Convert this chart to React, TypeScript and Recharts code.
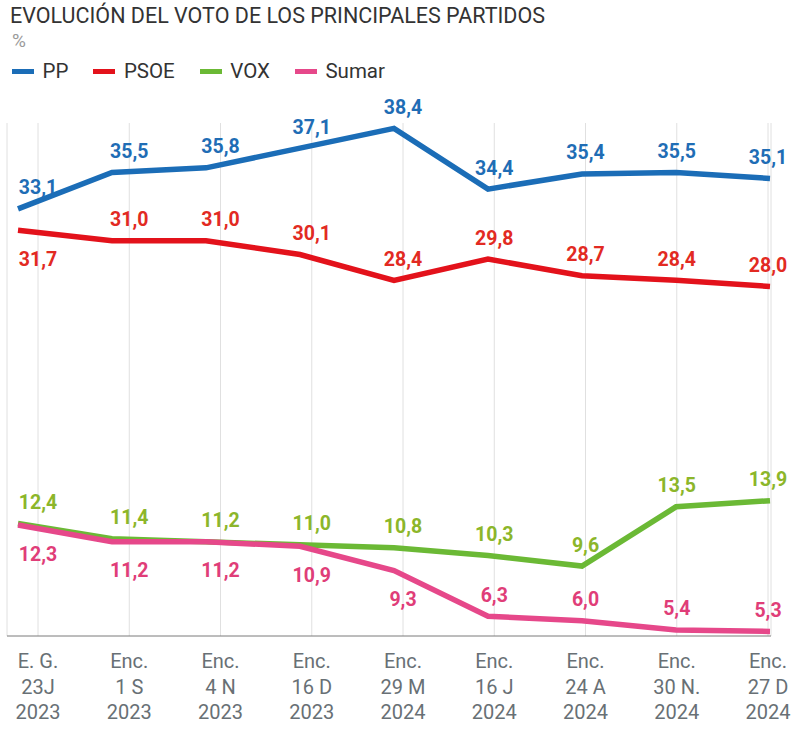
import { LineChart, Line, XAxis, YAxis, CartesianGrid, LabelList } from 'recharts';

// survey labels: kind / date / year
const categories = [
  'E. G.\n23J\n2023',
  'Enc.\n1 S\n2023',
  'Enc.\n4 N\n2023',
  'Enc.\n16 D\n2023',
  'Enc.\n29 M\n2024',
  'Enc.\n16 J\n2024',
  'Enc.\n24 A\n2024',
  'Enc.\n30 N.\n2024',
  'Enc.\n27 D\n2024',
];

const pp = [33.1, 35.5, 35.8, 37.1, 38.4, 34.4, 35.4, 35.5, 35.1];
const psoe = [31.7, 31.0, 31.0, 30.1, 28.4, 29.8, 28.7, 28.4, 28.0];
const vox = [12.4, 11.4, 11.2, 11.0, 10.8, 10.3, 9.6, 13.5, 13.9];
const sumar = [12.3, 11.2, 11.2, 10.9, 9.3, 6.3, 6.0, 5.4, 5.3];

// which value labels sit under the line
const psoeBelow = [true, false, false, false, false, false, false, false, false];
const sumarBelow = [true, true, true, true, true, false, false, false, false];
const noneBelow = categories.map(() => false);

const FONT = 'Roboto, "Noto Sans", sans-serif';

const series = [
  { key: 'pp', name: 'PP', line: '#1b6db7', text: '#1f6db5', below: noneBelow },
  { key: 'psoe', name: 'PSOE', line: '#e3121b', text: '#e22a22', below: psoeBelow },
  { key: 'vox', name: 'VOX', line: '#6bb935', text: '#8cb62a', below: noneBelow },
  { key: 'sumar', name: 'Sumar', line: '#e6488a', text: '#e03d78', below: sumarBelow },
];

const chartData = categories.map((cat, i) => ({
  cat,
  pp: pp[i],
  psoe: psoe[i],
  vox: vox[i],
  sumar: sumar[i],
}));

const formatValue = (v: number) => v.toFixed(1).replace('.', ',');

const makeLabel = (color: string, below: boolean[]) => (props: any) => {
  const { x, y, value, index } = props;
  if (value == null) return null;
  const down = below[index];
  return (
    <text
      x={x}
      y={down ? y + 29 : y - 21}
      textAnchor="middle"
      dominantBaseline="central"
      fill={color}
      fontSize={19.5}
      fontWeight={700}
      fontFamily={FONT}
    >
      {formatValue(value)}
    </text>
  );
};

const CategoryTick = ({ x, y, payload }: any) => {
  const lines = String(payload.value).split('\n');
  return (
    <text x={x} y={y} textAnchor="middle" fill="#687075" fontSize={20} fontFamily={FONT}>
      {lines.map((l, i) => (
        <tspan key={i} x={x} dy={i === 0 ? 32 : 25.5}>
          {l}
        </tspan>
      ))}
    </text>
  );
};

export default function App() {
  return (
    <div style={{ position: 'absolute', left: 0, top: 0, width: 795, height: 731, background: '#fff', fontFamily: FONT }}>
      <LineChart
        width={795}
        height={731}
        data={chartData}
        margin={{ top: 123, right: 24, bottom: 0, left: 7 }}
      >
        <XAxis xAxisId="pts" dataKey="cat" hide padding={{ left: 11, right: 1 }} />
        <XAxis
          xAxisId="grid"
          dataKey="cat"
          height={95}
          padding={{ left: 31, right: 3 }}
          axisLine={{ stroke: '#7a7a7a', strokeWidth: 1 }}
          tickLine={false}
          tickSize={0}
          tickMargin={0}
          interval={0}
          tick={<CategoryTick />}
        />
        <YAxis hide domain={[5, 38.75]} />
        <CartesianGrid xAxisId="grid" horizontal={false} stroke="#e0e0e0" />

        {series.map((s) => (
          <Line
            key={s.key}
            xAxisId="pts"
            type="linear"
            dataKey={s.key}
            stroke={s.line}
            strokeWidth={5.5}
            dot={false}
            activeDot={false}
            isAnimationActive={false}
          />
        ))}

        {/* value labels sit on the grid positions, not on the points */}
        {series.map((s) => (
          <Line
            key={s.key + '-lbl'}
            xAxisId="grid"
            type="linear"
            dataKey={s.key}
            stroke="none"
            dot={false}
            activeDot={false}
            isAnimationActive={false}
          >
            <LabelList dataKey={s.key} content={makeLabel(s.text, s.below)} />
          </Line>
        ))}
      </LineChart>

      <div style={{ position: 'absolute', left: 10, top: 3, fontSize: 21.5, color: '#333', whiteSpace: 'nowrap' }}>
        EVOLUCIÓN DEL VOTO DE LOS PRINCIPALES PARTIDOS
      </div>
      <div style={{ position: 'absolute', left: 12, top: 29, fontSize: 19, color: '#9a9a9a' }}>%</div>
      <div style={{ position: 'absolute', left: 12, top: 59, display: 'flex', alignItems: 'center', gap: 25 }}>
        {series.map((s) => (
          <div key={s.key} style={{ display: 'flex', alignItems: 'center' }}>
            <span style={{ display: 'inline-block', width: 22, height: 5, background: s.line, marginRight: 8.5 }} />
            <span style={{ fontSize: 20.5, color: '#333', lineHeight: '24px' }}>{s.name}</span>
          </div>
        ))}
      </div>
    </div>
  );
}
